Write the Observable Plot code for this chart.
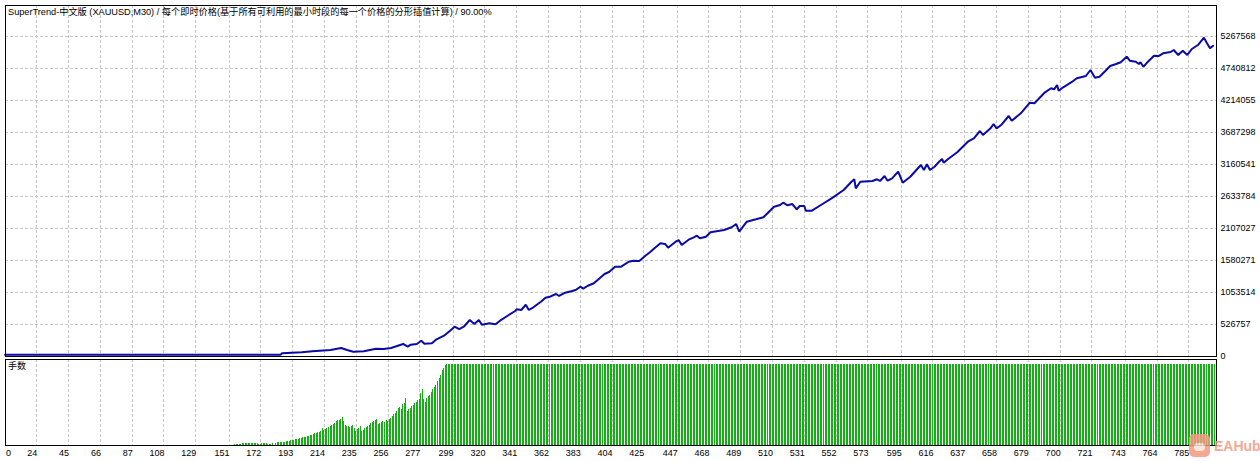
<!DOCTYPE html>
<html><head><meta charset="utf-8">
<script src="https://cdn.jsdelivr.net/npm/d3@7"></script>
<script src="https://cdn.jsdelivr.net/npm/@observablehq/plot@0.6"></script>
<style>
html,body{margin:0;padding:0;background:#fff;}
#wrap{position:relative;width:1260px;height:461px;overflow:hidden;background:#fff;}
#top,#bot{position:absolute;left:0;}
#top{top:0;}
#bot{top:357px;}
#wm{position:absolute;left:1189px;top:433px;height:25px;display:flex;align-items:center;opacity:0.85;}
#wm .ic{width:21px;height:23px;border-radius:5px;background:#f39a82;position:relative;}
#wm .ic:after{content:"";position:absolute;left:5px;top:9px;width:11px;height:8px;border-radius:4px;background:#fde3da;}
#wm .tx{margin-left:4px;font:600 14px "Liberation Sans",sans-serif;color:#f39a82;}
</style></head><body>
<div id="wrap"><div id="top"></div><div id="bot"></div><div id="wm"><span class="ic"></span><span class="tx">EAHub</span></div></div>
<script>
const title = "SuperTrend-中文版 (XAUUSD,M30) / 每个即时价格(基于所有可利用的最小时段的每一个价格的分形插值计算) / 90.00%";
const lotsLabel = "手数";

const yTickValues = [0, 526757, 1053514, 1580271, 2107027, 2633784, 3160541, 3687298, 4214055, 4740812, 5267568];
const xTickValues = [0, 24, 45, 66, 87, 108, 129, 151, 172, 193, 214, 235, 256, 277, 299, 320, 341, 362, 383, 404, 425, 447, 468, 489, 510, 531, 552, 573, 595, 616, 637, 658, 679, 700, 721, 743, 764, 785];

const eqTrade = [3, 120, 185, 186, 199, 206, 218, 225, 229, 233, 240, 248, 253, 258, 262, 266, 269, 271, 275, 278, 280, 285, 288, 293, 297, 300, 303, 306, 310, 313, 316, 318, 323, 327, 330, 335, 340, 341, 344, 347, 349, 352, 357, 360, 363, 367, 369, 373, 377, 380, 383, 385, 388, 392, 399, 402, 406, 410, 415, 418, 422, 426, 429, 432, 436, 439, 441, 446, 448, 450, 455, 458, 460, 462, 466, 469, 478, 483, 486, 488, 493, 499, 504, 511, 515, 517, 520, 523, 526, 528, 531, 532, 536, 542, 550, 557, 562, 564, 565, 568, 576, 579, 581, 584, 586, 589, 593, 596, 601, 608, 610, 612, 614, 617, 620, 622, 623, 626, 632, 639, 643, 647, 649, 654, 656, 658, 661, 666, 668, 674, 680, 683, 690, 694, 696, 698, 699, 702, 708, 711, 717, 720, 723, 726, 730, 733, 737, 740, 744, 746, 750, 752, 753, 755, 757, 762, 765, 768, 773, 775, 778, 781, 784, 787, 791, 795, 797, 799, 801];
const eqBalance = [20000, 21000, 22000, 44000, 61000, 77000, 99000, 132000, 99000, 71000, 77000, 120000, 115000, 132000, 165000, 198000, 153000, 186000, 198000, 252000, 202000, 209000, 275000, 334000, 416000, 482000, 444000, 482000, 593000, 527000, 593000, 515000, 538000, 522000, 581000, 663000, 741000, 769000, 757000, 844000, 757000, 802000, 894000, 960000, 976000, 1021000, 988000, 1042000, 1065000, 1086000, 1141000, 1108000, 1157000, 1197000, 1350000, 1383000, 1470000, 1470000, 1552000, 1569000, 1564000, 1650000, 1707000, 1773000, 1855000, 1844000, 1783000, 1881000, 1909000, 1827000, 1921000, 1954000, 1980000, 1937000, 1964000, 2036000, 2074000, 2119000, 2173000, 2046000, 2211000, 2250000, 2283000, 2458000, 2486000, 2523000, 2481000, 2502000, 2415000, 2469000, 2469000, 2392000, 2392000, 2486000, 2612000, 2733000, 2864000, 2909000, 2760000, 2869000, 2881000, 2909000, 2881000, 2963000, 2886000, 2925000, 3034000, 2853000, 2951000, 3144000, 3062000, 3156000, 3062000, 3116000, 3198000, 3243000, 3182000, 3243000, 3353000, 3528000, 3583000, 3704000, 3638000, 3748000, 3819000, 3748000, 3802000, 3951000, 3873000, 3995000, 4170000, 4160000, 4341000, 4407000, 4390000, 4461000, 4367000, 4423000, 4515000, 4571000, 4609000, 4708000, 4581000, 4598000, 4696000, 4774000, 4807000, 4835000, 4927000, 4861000, 4844000, 4807000, 4835000, 4762000, 4818000, 4943000, 4938000, 4983000, 5004000, 5037000, 4955000, 5026000, 4955000, 5054000, 5119000, 5240000, 5147000, 5065000, 5108000];

// lots per trade: first trade with lots shown, ramp values, then every trade at the maximum
const lotFirstTrade = 155;
const lotRamp = [0.4, 0.4, 0.4, 0.4, 0.4, 0.8, 1.1, 1.1, 1.1, 1.1, 1.1, 1.1, 1.1, 1.1, 1.1, 0.8, 0.6, 0.6, 0.8, 1.1, 1.1, 0.8, 0.6, 0.4, 0.6, 0.8, 1.1, 1.1, 1.3, 1.3, 1.3, 1.3, 1.5, 1.7, 1.9, 2.1, 2.3, 2.6, 2.8, 3.0, 3.2, 3.4, 3.6, 3.8, 4.2, 4.5, 4.7, 4.9, 5.2, 5.5, 5.8, 6.2, 6.6, 7.0, 7.2, 7.5, 8.0, 8.5, 10.0, 9.2, 9.7, 10.2, 10.8, 11.3, 12.0, 12.8, 13.6, 14.5, 15.0, 15.5, 16.2, 17.0, 14.5, 12.3, 11.3, 11.7, 10.9, 11.7, 12.1, 10.0, 8.7, 9.6, 10.0, 11.3, 8.7, 9.2, 10.2, 10.9, 11.7, 12.3, 13.4, 14.0, 14.9, 15.5, 16.0, 13.0, 13.4, 14.0, 14.9, 13.8, 15.1, 14.5, 16.2, 16.6, 17.7, 18.7, 19.8, 20.9, 22.6, 23.6, 21.9, 25.1, 25.8, 28.7, 20.9, 21.9, 23.0, 24.1, 24.7, 25.8, 26.2, 27.9, 28.3, 32.1, 34.3, 28.3, 26.2, 28.7, 30.0, 30.9, 32.6, 34.3, 35.8, 37.2, 39.4, 41.5, 43.6, 46.4, 47.9, 49.6];
const lotMax = 50;
const lastTrade = 802;

const equity = eqTrade.map((t, k) => ({trade: t, balance: eqBalance[k]}));
const lots = [];
lotRamp.forEach((v, k) => lots.push({trade: lotFirstTrade + k, lot: v}));
for (let t = lotFirstTrade + lotRamp.length; t <= lastTrade; t++) lots.push({trade: t, lot: lotMax});

const xDomain = [2.97, 802.95];
const font = "'Liberation Sans','Noto Sans CJK SC',sans-serif";
const gridColor = "#c8c8c8";
const gridDash = "3,2";

const topPlot = Plot.plot({
  width: 1260, height: 358,
  marginLeft: 4.5, marginRight: 44.5, marginTop: 4.5, marginBottom: 2.5,
  x: {domain: xDomain, axis: null},
  y: {domain: [0, 5778000], axis: null},
  style: {fontFamily: font, fontSize: "9px", background: "transparent", color: "#000", overflow: "visible"},
  marks: [
    Plot.ruleY(yTickValues.filter(v => v > 0), {stroke: gridColor, strokeDasharray: gridDash, shapeRendering: "crispEdges"}),
    Plot.ruleX(xTickValues.filter(v => v > 0), {stroke: gridColor, strokeDasharray: gridDash, shapeRendering: "crispEdges"}),
    Plot.line(equity, {x: "trade", y: "balance", stroke: "#0a0aa4", strokeWidth: 2, strokeLinejoin: "miter"}),
    Plot.frame({stroke: "#000", shapeRendering: "crispEdges"}),
    Plot.text(yTickValues, {y: d => d, text: d => d3.format("d")(d), frameAnchor: "right", textAnchor: "start", dx: 4.5, fill: "#000"}),
    Plot.text([title], {frameAnchor: "top-left", textAnchor: "start", lineAnchor: "top", dx: 3, dy: 3, fill: "#000", fontSize: 9.2})
  ]
});
document.getElementById("top").appendChild(topPlot);

const botPlot = Plot.plot({
  width: 1260, height: 104,
  marginLeft: 4.5, marginRight: 44.5, marginTop: 1.5, marginBottom: 16.5,
  x: {domain: xDomain, axis: null},
  y: {domain: [0, 53.6], axis: null},
  style: {fontFamily: font, fontSize: "9px", background: "transparent", color: "#000", overflow: "visible"},
  marks: [
    Plot.ruleX(xTickValues.filter(v => v > 0), {stroke: gridColor, strokeDasharray: gridDash, shapeRendering: "crispEdges"}),
    Plot.rectY(lots, {x1: d => d.trade - 0.33, x2: d => d.trade + 0.33, y: "lot", fill: "#12b012", shapeRendering: "crispEdges"}),
    Plot.frame({stroke: "#000", shapeRendering: "crispEdges"}),
    Plot.text([lotsLabel], {frameAnchor: "top-left", textAnchor: "start", lineAnchor: "top", dx: 3, dy: 4, fill: "#000"}),
    Plot.text(xTickValues.filter(v => v > 0), {x: d => d, text: d => String(d), frameAnchor: "bottom", textAnchor: "end", lineAnchor: "middle", dx: 0.5, dy: 8, fill: "#000"}),
    Plot.text(xTickValues.filter(v => v === 0), {text: d => String(d), frameAnchor: "bottom-left", textAnchor: "start", lineAnchor: "middle", dx: 1, dy: 8, fill: "#000"})
  ]
});
document.getElementById("bot").appendChild(botPlot);
</script>
</body></html>
